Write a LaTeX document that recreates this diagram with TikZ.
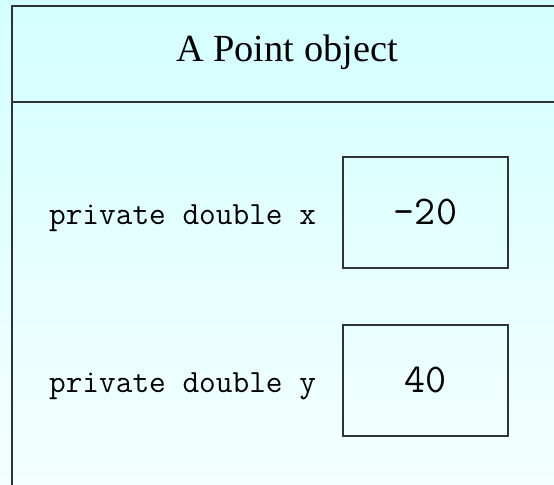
\documentclass[tikz,border=0pt]{standalone}
\usepackage{fontspec}
\setmainfont{Liberation Serif}
\usepackage{tikz}
\usetikzlibrary{positioning}

\definecolor{bgtop}{HTML}{D4FFFF}
\definecolor{bgbot}{HTML}{F4FFFF}
\definecolor{frameclr}{HTML}{2E3333}

\begin{document}
\begin{tikzpicture}[
    x=1bp, y=1bp,
    frame/.style={draw=frameclr, line width=1.9bp},
    valbox/.style={draw=frameclr, line width=1.7bp, minimum width=165bp,
                   minimum height=111bp, inner sep=0pt,
                   font=\ttfamily\fontsize{41}{43}\selectfont},
    fieldlbl/.style={inner sep=0pt, font=\ttfamily\fontsize{32.5}{35}\selectfont},
    titlelbl/.style={inner sep=0pt, font=\rmfamily\fontsize{38.5}{42}\selectfont}
]
    % Background
    \shade[top color=bgtop, bottom color=bgbot] (0,0) rectangle (554,485);
    \useasboundingbox (0,0) rectangle (554,485);

    % Object frame and header
    \draw[frame] (554,479) -- (11.7,479) -- (11.7,0);
    \draw[frame] (11.7,383) -- (554,383);
    \node[titlelbl, anchor=base] (title) at (287,423.3) {A Point object};

    % Field values
    \node[valbox] (xval) at (425.5,272.5) {-20};
    \node[valbox, below=55bp of xval] (yval) {40};

    % Field declarations
    \node[fieldlbl, anchor=base east] (xlbl) at ([xshift=-26bp]xval.base west) {private double x};
    \node[fieldlbl, anchor=base east] (ylbl) at ([xshift=-26bp]yval.base west) {private double y};

\end{tikzpicture}
\end{document}
